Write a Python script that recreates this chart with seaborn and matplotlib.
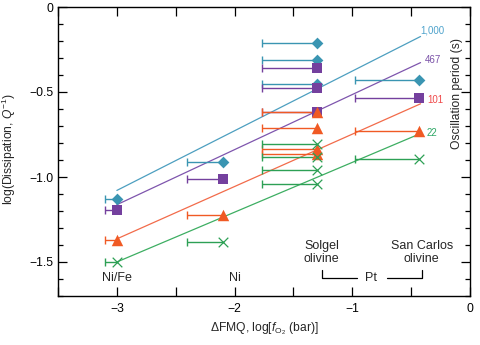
import numpy as np
import pandas as pd
import matplotlib
matplotlib.use("Agg")
import matplotlib.pyplot as plt
from matplotlib.ticker import MultipleLocator, FuncFormatter
import seaborn as sns

# ---- data -------------------------------------------------------------
# Oscillation periods (s)
periods = ["1,000", "467", "101", "22"]

# ΔFMQ of each measurement, its lower uncertainty, and log(Q^-1)
x_1000 = [-3.0, -2.1, -1.3, -1.3, -1.3, -0.43]
xerr_1000 = [0.10, 0.30, 0.47, 0.47, 0.47, 0.55]
y_1000 = [-1.132, -0.910, -0.210, -0.314, -0.450, -0.431]

x_467 = [-3.0, -2.1, -1.3, -1.3, -1.3, -0.43]
xerr_467 = [0.10, 0.30, 0.47, 0.47, 0.47, 0.55]
y_467 = [-1.197, -1.011, -0.361, -0.474, -0.615, -0.538]

x_101 = [-3.0, -2.1, -1.3, -1.3, -1.3, -1.3, -0.43]
xerr_101 = [0.10, 0.30, 0.47, 0.47, 0.47, 0.47, 0.55]
y_101 = [-1.368, -1.226, -0.620, -0.714, -0.835, -0.865, -0.728]

x_22 = [-3.0, -2.1, -1.3, -1.3, -1.3, -1.3, -0.43]
xerr_22 = [0.10, 0.30, 0.47, 0.47, 0.47, 0.47, 0.55]
y_22 = [-1.499, -1.382, -0.806, -0.880, -0.957, -1.040, -0.894]

# Linear fits log(Q^-1) = slope * ΔFMQ + intercept, one per period
fit_slope = [0.351, 0.324, 0.308, 0.293]
fit_intercept = [-0.026, -0.191, -0.440, -0.621]
fit_x_range = [-3.0, -0.42]

# Buffer / capsule annotations
buffer_labels = ["Ni/Fe", "Ni"]
buffer_x = [-3.0, -2.0]
olivine_labels = ["Solgel\nolivine", "San Carlos\nolivine"]
olivine_x = [-1.26, -0.41]

# ---- styles -----------------------------------------------------------
marker_color = ["#3A95B2", "#74409E", "#F05A24", "#2DA055"]
line_color = ["#4D9FC0", "#7E55AD", "#F26B4A", "#3DAE62"]
text_color = ["#4FA3CC", "#7B52A8", "#F0494A", "#2FA866"]
markers = ["D", "s", "^", "x"]
marker_area = [36, 62, 68, 48]
label_offset = [(0, 4), (3, 2), (5, 3), (4, 0)]

sns.set_style("ticks")
plt.rcParams["font.family"] = ["Liberation Sans", "DejaVu Sans"]
plt.rcParams["mathtext.fontset"] = "custom"
plt.rcParams["mathtext.rm"] = "Liberation Sans"
plt.rcParams["mathtext.it"] = "Liberation Sans:italic"
plt.rcParams["axes.unicode_minus"] = True

xs = [x_1000, x_467, x_101, x_22]
ys = [y_1000, y_467, y_101, y_22]
xerrs = [xerr_1000, xerr_467, xerr_101, xerr_22]

df = pd.concat(
    [pd.DataFrame({"period": p, "dfmq": x, "xerr": e, "logq": y})
     for p, x, e, y in zip(periods, xs, xerrs, ys)],
    ignore_index=True,
)

fig = plt.figure(figsize=(4.8, 3.45), dpi=100)
ax = fig.add_axes([58 / 480, 1 - 296 / 345, 412 / 480, 289 / 345])

# fit lines
fx = np.array(fit_x_range)
for i, p in enumerate(periods):
    fy = fit_slope[i] * fx + fit_intercept[i]
    sns.lineplot(x=fx, y=fy, color=line_color[i], lw=0.9, ax=ax, zorder=1)
    ax.annotate(p, (fx[-1], fy[-1]), xytext=label_offset[i],
                textcoords="offset points", ha="left", va="center",
                fontsize=7, color=text_color[i])

# one-sided horizontal error bars with a cap at the lower end
for i, p in enumerate(periods):
    sub = df[df["period"] == p]
    ax.hlines(sub["logq"], sub["dfmq"] - sub["xerr"], sub["dfmq"],
              color=marker_color[i], lw=1.0, zorder=2)
    ax.plot(sub["dfmq"] - sub["xerr"], sub["logq"], ls="none", marker="|",
            ms=5.5, mew=1.0, color=marker_color[i], zorder=2)

# measurements
for i, p in enumerate(periods):
    sub = df[df["period"] == p]
    kw = dict(linewidth=0) if markers[i] != "x" else dict(linewidth=0.9)
    sns.scatterplot(data=sub, x="dfmq", y="logq", marker=markers[i],
                    color=marker_color[i], s=marker_area[i], ax=ax,
                    zorder=3, legend=False, **kw)

# annotations along the bottom
label_y = -1.597
for lab, x in zip(buffer_labels, buffer_x):
    ax.text(x, label_y, lab, ha="center", va="center", fontsize=9)
for lab, x in zip(olivine_labels, olivine_x):
    ax.text(x, -1.443, lab, ha="center", va="center", fontsize=9,
            linespacing=1.15)
pt_x = -0.84
ax.text(pt_x, label_y, "Pt", ha="center", va="center", fontsize=9)
ax.plot([olivine_x[0], olivine_x[0], pt_x - 0.118], [-1.548, label_y, label_y],
        color="black", lw=0.9)
ax.plot([pt_x + 0.137, olivine_x[1], olivine_x[1]], [label_y, label_y, -1.548],
        color="black", lw=0.9)

ax.text(0.968, 0.70, "Oscillation period (s)", rotation=90, ha="center",
        va="center", fontsize=8.7, transform=ax.transAxes)

# axes
ax.set_xlim(-3.5, 0)
ax.set_ylim(-1.7, 0)


def fmt_x(v, _):
    if abs(v - round(v)) > 1e-6:
        return ""
    return "0" if abs(v) < 1e-6 else f"\u2212{abs(v):.0f}"


def fmt_y(v, _):
    return "0" if abs(v) < 1e-6 else f"\u2212{abs(v):.1f}"


ax.xaxis.set_major_locator(MultipleLocator(0.5))
ax.xaxis.set_major_formatter(FuncFormatter(fmt_x))
ax.yaxis.set_major_locator(MultipleLocator(0.5))
ax.yaxis.set_minor_locator(MultipleLocator(0.1))
ax.yaxis.set_major_formatter(FuncFormatter(fmt_y))

ax.tick_params(which="both", direction="in", top=True, right=True,
               width=0.9, colors="black", labelsize=8.7)
ax.tick_params(which="major", length=6.5)
ax.tick_params(which="minor", length=3.5)
ax.tick_params(axis="x", pad=5)
ax.tick_params(axis="y", pad=3.5)
for s in ax.spines.values():
    s.set_linewidth(1.0)
    s.set_color("black")

ax.set_xlabel("\u0394FMQ, log[$f_{\\mathrm{O}_2}$ (bar)]", fontsize=8.7)
ax.set_ylabel("log(Dissipation, $Q^{-1}$)", fontsize=8.7)
ax.xaxis.set_label_coords(0.5, -0.085)
ax.yaxis.set_label_coords(-0.097, 0.51)

fig.savefig("out.png", dpi=100)
